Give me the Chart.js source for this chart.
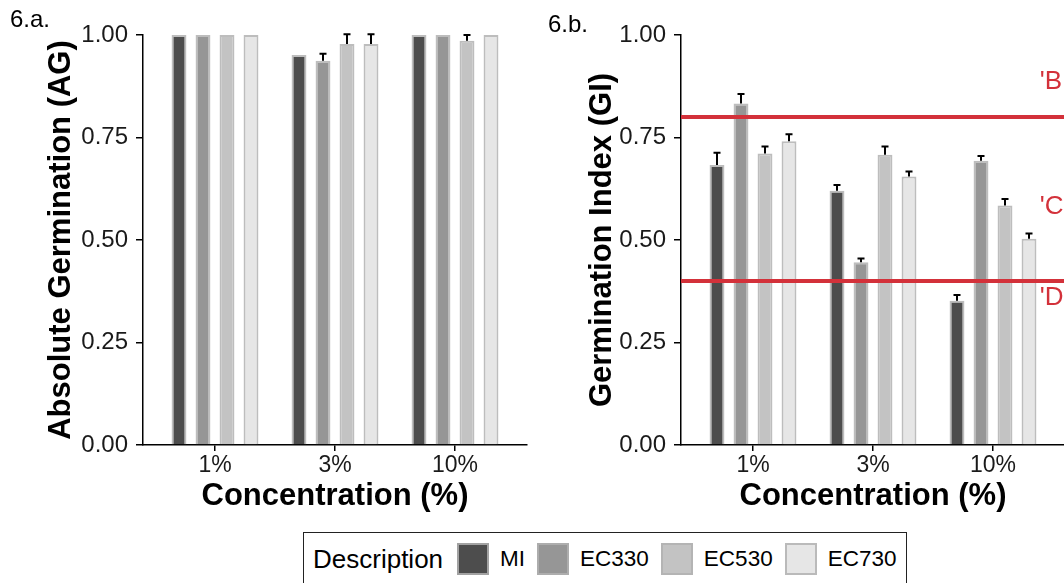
<!DOCTYPE html>
<html>
<head>
<meta charset="utf-8">
<script src="https://cdn.jsdelivr.net/npm/chart.js@4/dist/chart.umd.min.js"></script>
<style>
  html, body { margin: 0; padding: 0; background: #fff; overflow: hidden; }
  #page { position: relative; width: 1064px; height: 583px; overflow: hidden; font-family: "Liberation Sans", Arial, sans-serif; }
  canvas { position: absolute; top: 0; }
  .panel-tag { position: absolute; font-size: 24px; color: #000; }
  #legend { position: absolute; left: 303px; top: 532px; width: 604px; height: 70px; border: 1.5px solid #222; box-sizing: border-box; display: flex; align-items: flex-start; padding: 10px 0 0 9px; color: #000; }
  #legend .title { margin-right: 14px; font-size: 26px; line-height: 32px; flex-shrink: 0; }
  #legend .key { width: 32px; height: 32px; border: 2.5px solid rgba(178,178,178,0.85); box-sizing: border-box; margin: 0 11px 0 0; flex-shrink: 0; }
  #legend .lbl { margin-right: 12px; font-size: 22.5px; line-height: 32px; flex-shrink: 0; }
</style>
</head>
<body>
<div id="page">
  <canvas id="chartAG" width="560" height="520" style="left:0"></canvas>
  <canvas id="chartGI" width="545" height="520" style="left:560px"></canvas>
  <div class="panel-tag" style="left:10px; top:5px">6.a.</div>
  <div class="panel-tag" style="left:548px; top:10px">6.b.</div>
  <div id="legend"></div>
</div>
<script>
const concentrations = ["1%", "3%", "10%"];
const descriptions = ["MI", "EC330", "EC530", "EC730"];
const barColors = ["#4d4d4d", "#969696", "#c3c3c3", "#e6e6e6"];

// 6.a. absolute germination, one array per description (1%, 3%, 10%)
const agMI = [1.0, 0.951, 1.0];
const agEC330 = [1.0, 0.937, 1.0];
const agEC530 = [1.0, 0.978, 0.986];
const agEC730 = [1.0, 0.978, 1.0];
const agErrMI = [0, 0, 0];
const agErrEC330 = [0, 0.017, 0];
const agErrEC530 = [0, 0.024, 0.014];
const agErrEC730 = [0, 0.024, 0];

// 6.b. germination index
const giMI = [0.683, 0.620, 0.352];
const giEC330 = [0.833, 0.446, 0.693];
const giEC530 = [0.711, 0.708, 0.584];
const giEC730 = [0.741, 0.655, 0.503];
const giErrMI = [0.030, 0.014, 0.014];
const giErrEC330 = [0.023, 0.009, 0.012];
const giErrEC530 = [0.017, 0.020, 0.016];
const giErrEC730 = [0.017, 0.012, 0.013];

const yTicks = [0, 0.25, 0.5, 0.75, 1.0];
const refLines = [0.8, 0.4];
const refLabels = ["'B", "'C", "'D"];
const refLabelValues = [0.885, 0.58, 0.359];
const refLabelX = 3.39;

const FONT = '"Liberation Sans", Arial, sans-serif';
const RED = "#d3313a";

/**
 * Draws the upper half of each error bar above its bar.
 */
const errorBarPlugin = {
  id: "errorBars",
  afterDatasetsDraw(chart) {
    const { ctx } = chart;
    const yScale = chart.scales.y;
    chart.data.datasets.forEach((ds, i) => {
      const meta = chart.getDatasetMeta(i);
      meta.data.forEach((bar, j) => {
        const err = ds.errors[j];
        if (!err) return;
        const top = yScale.getPixelForValue(ds.data[j].y + err);
        ctx.save();
        ctx.strokeStyle = "#000";
        ctx.lineWidth = 2;
        ctx.beginPath();
        ctx.moveTo(bar.x, bar.y);
        ctx.lineTo(bar.x, top);
        ctx.moveTo(bar.x - 3.5, top);
        ctx.lineTo(bar.x + 3.5, top);
        ctx.stroke();
        ctx.restore();
      });
    });
  },
};

/**
 * Red threshold lines and their labels (6.b. only).
 */
const refLinePlugin = {
  id: "refLines",
  afterDatasetsDraw(chart, args, opts) {
    if (!opts.show) return;
    const { ctx, chartArea } = chart;
    const x = chart.scales.x;
    const y = chart.scales.y;
    ctx.save();
    ctx.strokeStyle = RED;
    ctx.lineWidth = 4;
    refLines.forEach((v) => {
      const py = y.getPixelForValue(v);
      ctx.beginPath();
      ctx.moveTo(chartArea.left, py);
      ctx.lineTo(chartArea.right, py);
      ctx.stroke();
    });
    ctx.fillStyle = RED;
    ctx.font = "26px " + FONT;
    ctx.textAlign = "left";
    ctx.textBaseline = "middle";
    refLabels.forEach((t, i) => {
      ctx.fillText(t, x.getPixelForValue(refLabelX), y.getPixelForValue(refLabelValues[i]));
    });
    ctx.restore();
  },
};

const makeDatasets = (values, errors) =>
  descriptions.map((d, i) => ({
    label: d,
    data: values[i].map((v, j) => ({ x: j + 1, y: v })),
    errors: errors[i],
    backgroundColor: barColors[i],
    borderColor: "rgba(178,178,178,0.85)",
    borderWidth: 2,
    categoryPercentage: 0.8,
    barPercentage: 0.62,
  }));

/**
 * Builds one panel. yWidth/titlePad place the y axis, padRight sets the plot's right edge.
 */
const renderPanel = (id, values, errors, yTitle, yWidth, titlePad, padRight, showRefs) => {
  new Chart(document.getElementById(id), {
    type: "bar",
    data: { datasets: makeDatasets(values, errors) },
    plugins: [errorBarPlugin, refLinePlugin],
    options: {
      responsive: false,
      animation: false,
      layout: { padding: { top: 35, right: padRight, bottom: 0, left: 0 } },
      plugins: {
        legend: { display: false },
        tooltip: { enabled: false },
        refLines: { show: showRefs },
      },
      scales: {
        x: {
          type: "linear",
          offset: false,
          min: 0.4,
          max: 3.6,
          afterBuildTicks: (scale) => {
            scale.ticks = concentrations.map((c, i) => ({ value: i + 1 }));
          },
          afterFit: (scale) => { scale.height = 75; },
          ticks: {
            callback: (v) => concentrations[v - 1],
            color: "#1a1a1a",
            font: { family: FONT, size: 23 },
            padding: 1,
            maxRotation: 0,
          },
          grid: { offset: false, drawOnChartArea: false, drawTicks: true, tickLength: 6, color: "#000", lineWidth: 1.5 },
          border: { display: true, color: "#000", width: 1.5 },
          title: {
            display: true,
            text: "Concentration (%)",
            color: "#000",
            font: { family: FONT, size: 31, weight: "bold" },
            padding: { top: 0, bottom: 5 },
          },
        },
        y: {
          min: 0,
          max: 1,
          afterBuildTicks: (scale) => {
            scale.ticks = yTicks.map((v) => ({ value: v }));
          },
          afterFit: (scale) => { scale.width = yWidth; },
          ticks: {
            callback: (v) => v.toFixed(2),
            color: "#1a1a1a",
            font: { family: FONT, size: 24 },
            padding: 8,
          },
          grid: { drawOnChartArea: false, drawTicks: true, tickLength: 7, color: "#000", lineWidth: 1.5 },
          border: { display: true, color: "#000", width: 1.5 },
          title: {
            display: true,
            text: yTitle,
            color: "#000",
            font: { family: FONT, size: 31, weight: "bold" },
            padding: { top: titlePad, bottom: 0 },
          },
        },
      },
    },
  });
};

renderPanel("chartAG",
  [agMI, agEC330, agEC530, agEC730],
  [agErrMI, agErrEC330, agErrEC530, agErrEC730],
  "Absolute Germination (AG)", 143, 43, 33, false);

renderPanel("chartGI",
  [giMI, giEC330, giEC530, giEC730],
  [giErrMI, giErrEC330, giErrEC530, giErrEC730],
  "Germination Index (GI)", 121, 24, 40, true);

// legend shared by both panels
const legend = document.getElementById("legend");
legend.innerHTML = '<span class="title">Description</span>' +
  descriptions.map((d, i) =>
    `<span class="key" style="background:${barColors[i]}"></span><span class="lbl">${d}</span>`
  ).join("");
</script>
</body>
</html>
